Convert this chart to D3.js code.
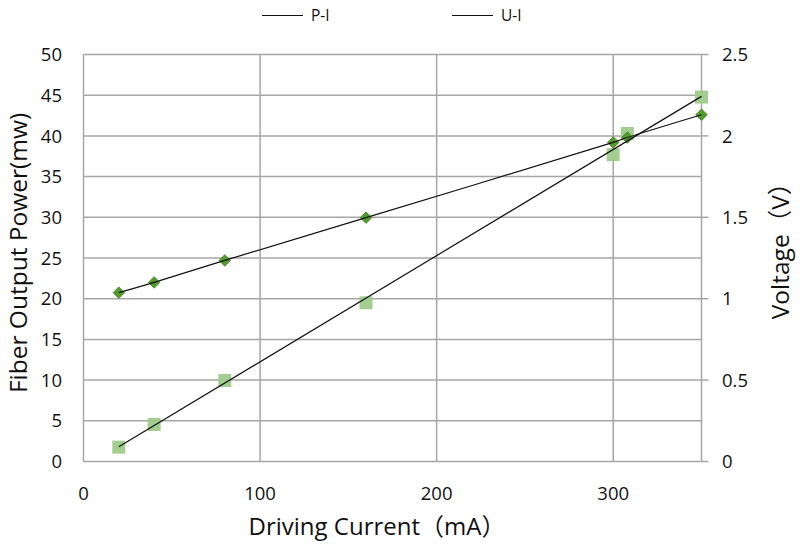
<!DOCTYPE html>
<html><head><meta charset="utf-8">
<script src="https://cdn.jsdelivr.net/npm/d3@7"></script>
<style>body{margin:0;background:#fff}svg{display:block}</style>
</head><body>
<svg id="c" width="800" height="544"></svg>
<script>
const current = [20, 40, 80, 160, 300, 308, 350];
const power = [1.76, 4.55, 9.95, 19.5, 37.7, 40.3, 44.77];
const voltage = [1.037, 1.10, 1.235, 1.498, 1.96, 1.99, 2.13];
const xTicks = [0, 100, 200, 300];
const yLeftTicks = [0, 5, 10, 15, 20, 25, 30, 35, 40, 45, 50];
const yRightTicks = [0, 0.5, 1, 1.5, 2, 2.5];
const legendLabels = ["P-I", "U-I"];

const font = "'Open Sans','Noto Sans CJK SC',sans-serif";
const svg = d3.select("#c");
const L = 83.5, R = 701.5, T = 54.5, B = 461.5;
const x = d3.scaleLinear().domain([0, 350]).range([L, R]);
const yL = d3.scaleLinear().domain([0, 50]).range([B, T]);
const yR = d3.scaleLinear().domain([0, 2.5]).range([B, T]);
const grid = "#a6a6a6";

// gridlines
svg.append("g").selectAll("line").data(yLeftTicks).join("line")
  .attr("x1", L).attr("x2", R).attr("y1", d => yL(d)).attr("y2", d => yL(d))
  .attr("stroke", grid).attr("stroke-width", 1.5);
svg.append("g").selectAll("line").data(xTicks.concat([350])).join("line")
  .attr("y1", T).attr("y2", B).attr("x1", d => x(d)).attr("x2", d => x(d))
  .attr("stroke", grid).attr("stroke-width", 1.5);

// right axis ticks
svg.append("g").selectAll("line").data(yRightTicks).join("line")
  .attr("x1", R).attr("x2", R + 7).attr("y1", d => yR(d)).attr("y2", d => yR(d))
  .attr("stroke", grid).attr("stroke-width", 1.5);

// tick labels
svg.append("g").selectAll("text").data(yLeftTicks).join("text")
  .attr("x", 62).attr("y", d => yL(d)).attr("dy", "0.36em")
  .attr("text-anchor", "end").attr("font-family", font).attr("font-size", 18.5).attr("fill", "#111")
  .text(d => d);
svg.append("g").selectAll("text").data(yRightTicks).join("text")
  .attr("x", 722).attr("y", d => yR(d)).attr("dy", "0.36em")
  .attr("text-anchor", "start").attr("font-family", font).attr("font-size", 18.5).attr("fill", "#111")
  .text(d => d);
svg.append("g").selectAll("text").data(xTicks).join("text")
  .attr("x", d => x(d)).attr("y", 500)
  .attr("text-anchor", "middle").attr("font-family", font).attr("font-size", 18.5).attr("fill", "#111")
  .text(d => d);

// axis titles
svg.append("text").attr("transform", "translate(27,253) rotate(-90)")
  .attr("text-anchor", "middle").attr("font-family", font).attr("font-size", 24.5).attr("fill", "#111")
  .text("Fiber Output Power(mw)");
svg.append("text").attr("transform", "translate(789,245) rotate(-90)")
  .attr("text-anchor", "middle").attr("font-family", font).attr("font-size", 24.5).attr("fill", "#111")
  .text("Voltage（V）");
svg.append("text").attr("x", 377).attr("y", 535)
  .attr("text-anchor", "middle").attr("font-family", font).attr("font-size", 24).attr("fill", "#111")
  .text("Driving Current（mA）");

// markers
const pts = current.map((c, i) => ({c, p: power[i], v: voltage[i]}));
svg.append("g").selectAll("rect").data(pts).join("rect")
  .attr("x", d => x(d.c) - 6.5).attr("y", d => yL(d.p) - 6.5)
  .attr("width", 13).attr("height", 13)
  .attr("fill", "#9fcb8b").attr("fill-opacity", 0.95);
const dsym = d3.symbol().type(d3.symbolDiamond2).size(85);
svg.append("g").selectAll("path").data(pts).join("path")
  .attr("transform", d => `translate(${x(d.c)},${yR(d.v)})`)
  .attr("d", dsym).attr("fill", "#559a2c").attr("stroke", "#3f7f1f").attr("stroke-width", 0.8);

// P-I linear trendline (least squares from data)
const mx = d3.mean(current), my = d3.mean(power);
const slope = d3.sum(current.map((c, i) => (c - mx) * (power[i] - my))) / d3.sum(current.map(c => (c - mx) ** 2));
const icpt = my - slope * mx;
const x0 = d3.min(current), x1 = d3.max(current);
svg.append("line")
  .attr("x1", x(x0)).attr("y1", yL(icpt + slope * x0))
  .attr("x2", x(x1)).attr("y2", yL(icpt + slope * x1))
  .attr("stroke", "#111").attr("stroke-width", 1.2);

// U-I smoothed line
svg.append("path").datum(pts)
  .attr("d", d3.line().x(d => x(d.c)).y(d => yR(d.v)).curve(d3.curveCatmullRom.alpha(0.5)))
  .attr("fill", "none").attr("stroke", "#111").attr("stroke-width", 1.2);

// legend
const lg = svg.append("g");
const lx = [262, 452];
legendLabels.forEach((t, i) => {
  lg.append("line").attr("x1", lx[i]).attr("x2", lx[i] + 41).attr("y1", 15.5).attr("y2", 15.5)
    .attr("stroke", "#111").attr("stroke-width", 1.2);
  lg.append("text").attr("x", lx[i] + 49).attr("y", 15).attr("dy", "0.36em")
    .attr("font-family", font).attr("font-size", 15.5).attr("fill", "#111").text(t);
});
</script>
</body></html>
